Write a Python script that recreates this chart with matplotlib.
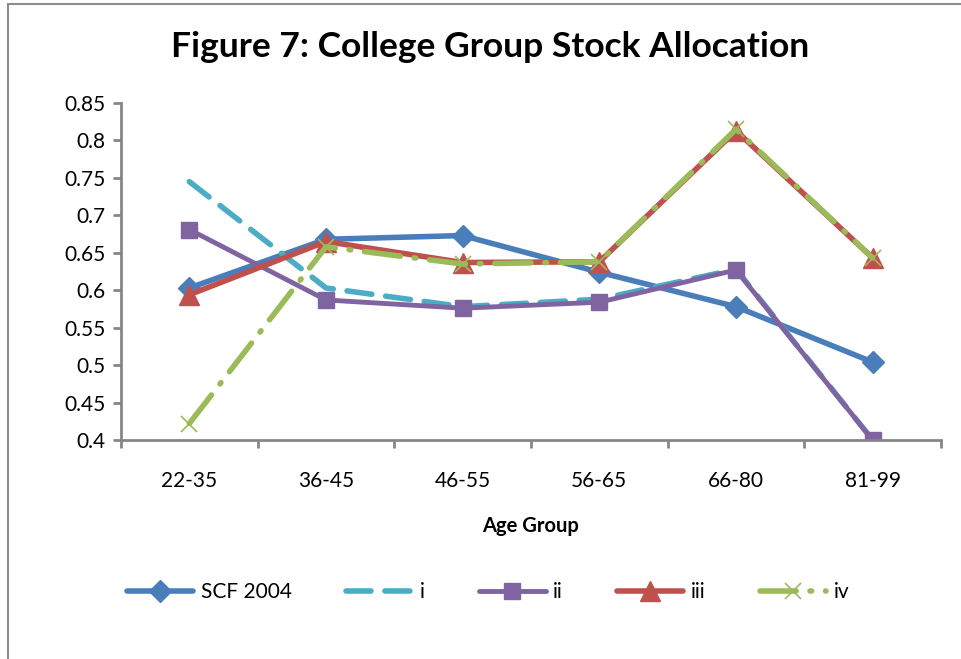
import numpy as np
import matplotlib
matplotlib.use("Agg")
import matplotlib.pyplot as plt
from matplotlib.patches import Rectangle

# values
age_groups = ["22-35", "36-45", "46-55", "56-65", "66-80", "81-99"]
scf_2004 = [0.603, 0.668, 0.673, 0.624, 0.578, 0.504]
model_i = [0.745, 0.603, 0.578, 0.588, 0.628, 0.400]
model_ii = [0.681, 0.587, 0.576, 0.584, 0.627, 0.400]
model_iii = [0.594, 0.665, 0.637, 0.638, 0.813, 0.643]
model_iv = [0.422, 0.658, 0.635, 0.638, 0.815, 0.643]
y_ticks = [0.4, 0.45, 0.5, 0.55, 0.6, 0.65, 0.7, 0.75, 0.8, 0.85]

plt.rcParams['font.family'] = ['Lato', 'DejaVu Sans']

fig = plt.figure(figsize=(9.62, 6.59), dpi=100)
fig.patches.append(Rectangle((8 / 962, -0.1), 1.2, 1.1 - 4 / 659,
                             transform=fig.transFigure, fill=False,
                             edgecolor='#8c8c8c', linewidth=1.5))

ax = fig.add_axes([121 / 962, 1 - 440 / 659, 820 / 962, 337 / 659])
x = np.arange(len(age_groups))

ax.plot(x, scf_2004, color='#4A7EBB', linewidth=4, marker='D', markersize=11,
        solid_capstyle='round', label='SCF 2004')
ax.plot(x, model_i, color='#4BACC6', linewidth=4, linestyle=(0, (4.5, 2.5)),
        dash_capstyle='round', label='i')
ax.plot(x, model_ii, color='#8064A2', linewidth=3.5, marker='s', markersize=12,
        solid_capstyle='round', label='ii')
ax.plot(x, model_iii, color='#C0504D', linewidth=4, marker='^', markersize=14,
        solid_capstyle='round', label='iii')
ax.plot(x, model_iv, color='#9BBB59', linewidth=4, linestyle=(0, (6.5, 2.5, 0.3, 2.5)),
        dash_capstyle='round', marker='x', markersize=12, markeredgewidth=1.2,
        label='iv')

ax.set_xlim(-0.5, len(age_groups) - 0.5)
ax.set_ylim(0.4, 0.85)
ax.set_yticks(y_ticks)
ax.set_yticklabels(['%g' % v for v in y_ticks])
ax.set_xticks(x)
ax.set_xticklabels(age_groups)
ax.set_xticks(np.arange(len(age_groups) + 1) - 0.5, minor=True)
ax.tick_params(axis='x', which='major', length=0, pad=22, labelsize=15)
ax.tick_params(axis='x', which='minor', length=6, width=2, color='#868686')
ax.tick_params(axis='y', length=6, width=2, color='#868686', labelsize=15, pad=5)

for side in ['top', 'right']:
    ax.spines[side].set_visible(False)
for side in ['left', 'bottom']:
    ax.spines[side].set_color('#868686')
    ax.spines[side].set_linewidth(2)

ax.set_xlabel('Age Group', fontsize=14.5, fontweight='bold', labelpad=18)
fig.suptitle('Figure 7: College Group Stock Allocation', fontsize=25.5,
             fontweight='bold', x=490 / 962, y=1 - 47 / 659, va='center')

fig.legend(loc='center', bbox_to_anchor=(488 / 962, 1 - 592 / 659), ncol=5,
           frameon=False, fontsize=15, handlelength=3.2, handletextpad=0.35,
           columnspacing=2.6)

plt.savefig('out.png', dpi=100)
